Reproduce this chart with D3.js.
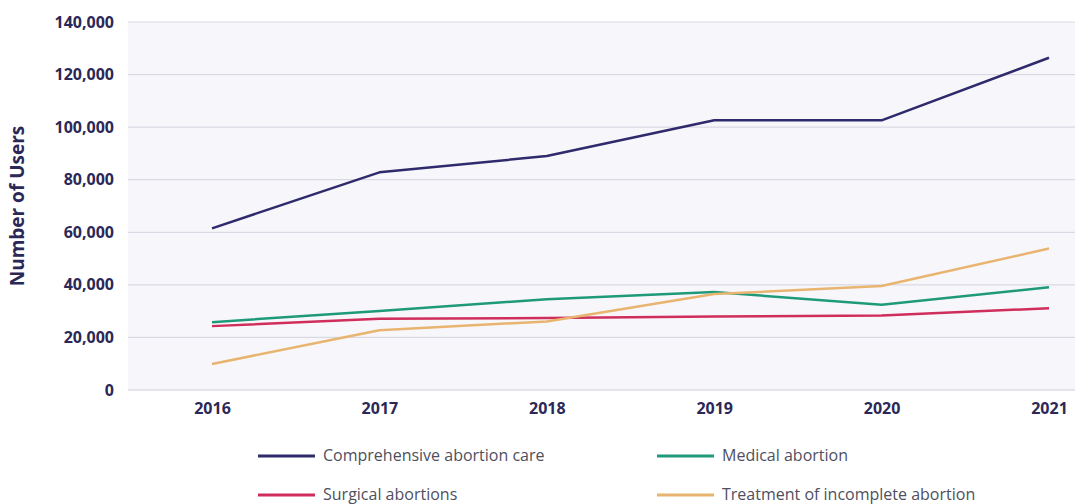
<!DOCTYPE html>
<html><head><meta charset="utf-8">
<script src="https://cdn.jsdelivr.net/npm/d3@7"></script>
<style>
body{margin:0;background:#fff;}
svg{display:block;font-family:"Open Sans",Lato,sans-serif;}
</style></head>
<body><svg id="c" width="1075" height="504"></svg>
<script>
const years = ["2016","2017","2018","2019","2020","2021"];
const yTicks = [0,20000,40000,60000,80000,100000,120000,140000];
const comprehensive = [61500,82800,89000,102600,102600,126400];
const medical = [25800,30100,34500,37300,32400,39100];
const surgical = [24300,27100,27400,28000,28300,31100];
const treatment = [9900,22700,26100,36500,39600,53800];
const seriesNames = ["Comprehensive abortion care","Medical abortion","Surgical abortions","Treatment of incomplete abortion"];
const seriesColors = ["#2f2a6b","#1e9a79","#cf2d5b","#e8b46f"];
const series = [comprehensive, medical, surgical, treatment];

const svg = d3.select("#c");
const plotL = 128, plotR = 1075, plotT = 22, plotB = 390;
const x = d3.scalePoint().domain(years).range([212,1049]);
const y = d3.scaleLinear().domain([0,140000]).range([plotB, plotT]);

svg.append("rect").attr("x",plotL).attr("y",plotT).attr("width",plotR-plotL).attr("height",plotB-plotT).attr("fill","#f7f7fb");

svg.append("g").selectAll("line").data(yTicks).join("line")
  .attr("x1",plotL).attr("x2",plotR)
  .attr("y1",d=>y(d)).attr("y2",d=>y(d))
  .attr("stroke",(d)=> d===0 ? "#cfcfd8" : "#d9d9e3").attr("stroke-width",1.2);

const yAxis = svg.append("g").attr("transform",`translate(${plotL},0)`)
  .call(d3.axisLeft(y).tickValues(yTicks).tickFormat(d3.format(",")).tickSize(0).tickPadding(14));
yAxis.select(".domain").remove();
yAxis.selectAll("text").attr("fill","#2b2857").attr("font-size","16px").attr("font-weight","700")
  .attr("font-family","'Open Sans',sans-serif");

const xAxis = svg.append("g").attr("transform",`translate(0,${plotB})`)
  .call(d3.axisBottom(x).tickSize(0).tickPadding(13));
xAxis.select(".domain").remove();
xAxis.selectAll("text").attr("fill","#2b2857").attr("font-size","16px").attr("font-weight","700")
  .attr("font-family","'Open Sans',sans-serif");

svg.append("text").attr("transform",`translate(24,${(plotT+plotB)/2}) rotate(-90)`)
  .attr("text-anchor","middle").attr("fill","#2b2857").attr("font-size","19px").attr("font-weight","700")
  .text("Number of Users");

const line = d3.line().x((d,i)=>x(years[i])).y(d=>y(d));
series.forEach((s,i)=>{
  svg.append("path").datum(s).attr("d",line).attr("fill","none")
    .attr("stroke",seriesColors[i]).attr("stroke-width",2.5).attr("stroke-linejoin","round");
});

const legPos = [[258,456],[657,456],[258,495],[657,495]];
seriesNames.forEach((n,i)=>{
  const [lx,ly] = legPos[i];
  svg.append("line").attr("x1",lx).attr("x2",lx+57).attr("y1",ly).attr("y2",ly)
    .attr("stroke",seriesColors[i]).attr("stroke-width",3);
  svg.append("text").attr("x",lx+65).attr("y",ly+5).attr("fill","#4f4f5e")
    .attr("font-size","16px").text(n);
});
</script></body></html>
